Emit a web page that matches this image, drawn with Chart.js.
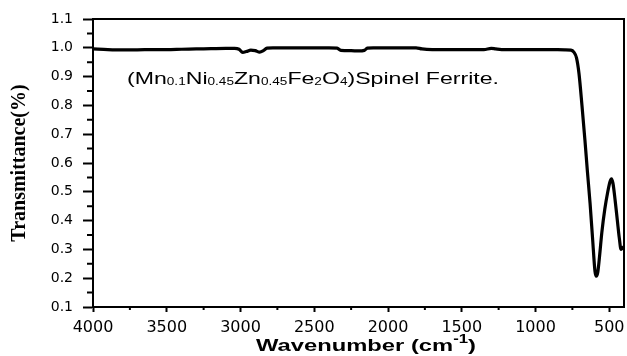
<!DOCTYPE html>
<html>
<head>
<meta charset="utf-8">
<script src="https://cdn.jsdelivr.net/npm/chart.js@4/dist/chart.umd.min.js"></script>
<style>
  html, body { margin: 0; padding: 0; background: #fff; }
</style>
</head>
<body>
<canvas id="ftir" width="627" height="356"></canvas>
<script>
// FTIR spectrum, wavenumber in cm-1 (descending) and transmittance
const wavenumbers = [
  4000, 3900, 3800, 3700, 3600, 3500, 3400, 3300, 3200, 3100,
  3040, 3010, 2985, 2960, 2930, 2900, 2870, 2845, 2820, 2780,
  2600, 2400, 2345, 2320, 2250, 2200, 2160, 2140, 2100, 1900,
  1810, 1770, 1700, 1500, 1350, 1300, 1270, 1230, 1000, 800,
  760, 740, 722, 705, 685, 665, 648, 630, 612, 597,
  588, 578, 565, 550, 530, 510, 495, 485, 475, 460,
  445, 432, 420, 410, 400
];
const transmittance = [
  0.996, 0.994, 0.993, 0.993, 0.994, 0.994, 0.995, 0.996, 0.997, 0.998,
  0.998, 0.995, 0.984, 0.987, 0.992, 0.990, 0.985, 0.990, 0.999, 1.000,
  1.000, 1.000, 0.999, 0.991, 0.990, 0.989, 0.991, 0.999, 1.000, 1.000,
  1.000, 0.996, 0.994, 0.994, 0.994, 0.998, 0.996, 0.994, 0.994, 0.993,
  0.992, 0.985, 0.965, 0.910, 0.800, 0.680, 0.570, 0.460, 0.330, 0.225,
  0.207, 0.220, 0.280, 0.360, 0.440, 0.500, 0.535, 0.545, 0.530, 0.470,
  0.400, 0.340, 0.300, 0.305, 0.310
];
const xTicks = [4000, 3500, 3000, 2500, 2000, 1500, 1000, 500];
const xMinorTicks = [3750, 3250, 2750, 2250, 1750, 1250, 750];
const yTicks = [0.1, 0.2, 0.3, 0.4, 0.5, 0.6, 0.7, 0.8, 0.9, 1.0, 1.1];
const yMinorTicks = [0.15, 0.25, 0.35, 0.45, 0.55, 0.65, 0.75, 0.85, 0.95, 1.05];

const sampleLabel = [
  ['(Mn', false], ['0.1', true], ['Ni', false], ['0.45', true],
  ['Zn', false], ['0.45', true], ['Fe', false], ['2', true],
  ['O', false], ['4', true], [')Spinel Ferrite.', false]
];

// draws text runs with subscripts / superscripts, stretched to a given width
function drawRuns(ctx, runs, x, y, width, mainFont, smallFont, shift) {
  ctx.save();
  let total = 0;
  runs.forEach(r => {
    ctx.font = r[1] ? smallFont : mainFont;
    total += ctx.measureText(r[0]).width;
  });
  ctx.translate(x, y);
  ctx.scale(width / total, 1);
  let cx = 0;
  ctx.textBaseline = 'alphabetic';
  ctx.textAlign = 'left';
  runs.forEach(r => {
    ctx.font = r[1] ? smallFont : mainFont;
    ctx.fillText(r[0], cx, r[1] ? shift : 0);
    cx += ctx.measureText(r[0]).width;
  });
  ctx.restore();
}

const frame = {
  id: 'frame',
  afterDraw(chart) {
    const ctx = chart.ctx;
    const area = chart.chartArea;
    const xs = chart.scales.x;
    const ys = chart.scales.y;
    ctx.save();
    ctx.strokeStyle = '#000';
    ctx.fillStyle = '#000';
    ctx.lineWidth = 2;

    // top and right sides of the box
    ctx.beginPath();
    ctx.moveTo(area.left, area.top);
    ctx.lineTo(area.right, area.top);
    ctx.lineTo(area.right, area.bottom);
    ctx.stroke();

    // minor ticks
    ctx.beginPath();
    xMinorTicks.forEach(v => {
      const px = xs.getPixelForValue(v);
      ctx.moveTo(px, area.bottom);
      ctx.lineTo(px, area.bottom + 3);
    });
    yMinorTicks.forEach(v => {
      const py = ys.getPixelForValue(v);
      ctx.moveTo(area.left, py);
      ctx.lineTo(area.left - 6, py);
    });
    ctx.stroke();

    // x axis title with superscript
    drawRuns(ctx, [['Wavenumber (cm', false], ['-1', true], [')', false]],
      256, 351, 220, 'bold 17px "Liberation Sans"', 'bold 12px "Liberation Sans"', -8);

    // sample name
    drawRuns(ctx, sampleLabel, 127, 84, 372, '17px "Liberation Sans"', '10px "Liberation Sans"', 1);
    ctx.restore();
  }
};

new Chart(document.getElementById('ftir'), {
  type: 'line',
  data: {
    datasets: [{
      data: wavenumbers.map((w, i) => ({ x: w, y: transmittance[i] })),
      borderColor: '#000',
      borderWidth: 3.2,
      pointRadius: 0,
      cubicInterpolationMode: 'monotone',
      fill: false
    }]
  },
  options: {
    responsive: false,
    animation: false,
    layout: { padding: { top: 19, right: 3, left: 0, bottom: 0 } },
    plugins: { legend: { display: false }, tooltip: { enabled: false } },
    scales: {
      x: {
        type: 'linear',
        reverse: true,
        min: 400,
        max: 4000,
        afterBuildTicks: s => { s.ticks = xTicks.map(v => ({ value: v })); },
        afterFit: s => { s.height = 49; s.paddingLeft = 0; s.paddingRight = 0; },
        grid: { drawOnChartArea: false, tickLength: 5, tickWidth: 2, tickColor: '#000' },
        border: { color: '#000', width: 2 },
        ticks: {
          color: '#000',
          font: { family: 'DejaVu Sans', size: 16 },
          padding: 6,
          maxRotation: 0,
          autoSkip: false,
          callback: v => String(v)
        }
      },
      y: {
        min: 0.1,
        max: 1.1,
        afterBuildTicks: s => { s.ticks = yTicks.map(v => ({ value: v })); },
        afterFit: s => { s.width = 93; s.paddingTop = 0; s.paddingBottom = 0; },
        grid: { drawOnChartArea: false, tickLength: 10, tickWidth: 2, tickColor: '#000' },
        border: { color: '#000', width: 2 },
        ticks: {
          color: '#000',
          font: { family: 'DejaVu Sans', size: 14 },
          padding: 10,
          autoSkip: false,
          callback: v => v.toFixed(1)
        },
        title: {
          display: true,
          text: 'Transmittance(%)',
          color: '#000',
          font: { family: 'Liberation Serif', size: 20, weight: 'bold' },
          padding: { top: 8, bottom: 0 }
        }
      }
    }
  },
  plugins: [frame]
});
</script>
</body>
</html>
